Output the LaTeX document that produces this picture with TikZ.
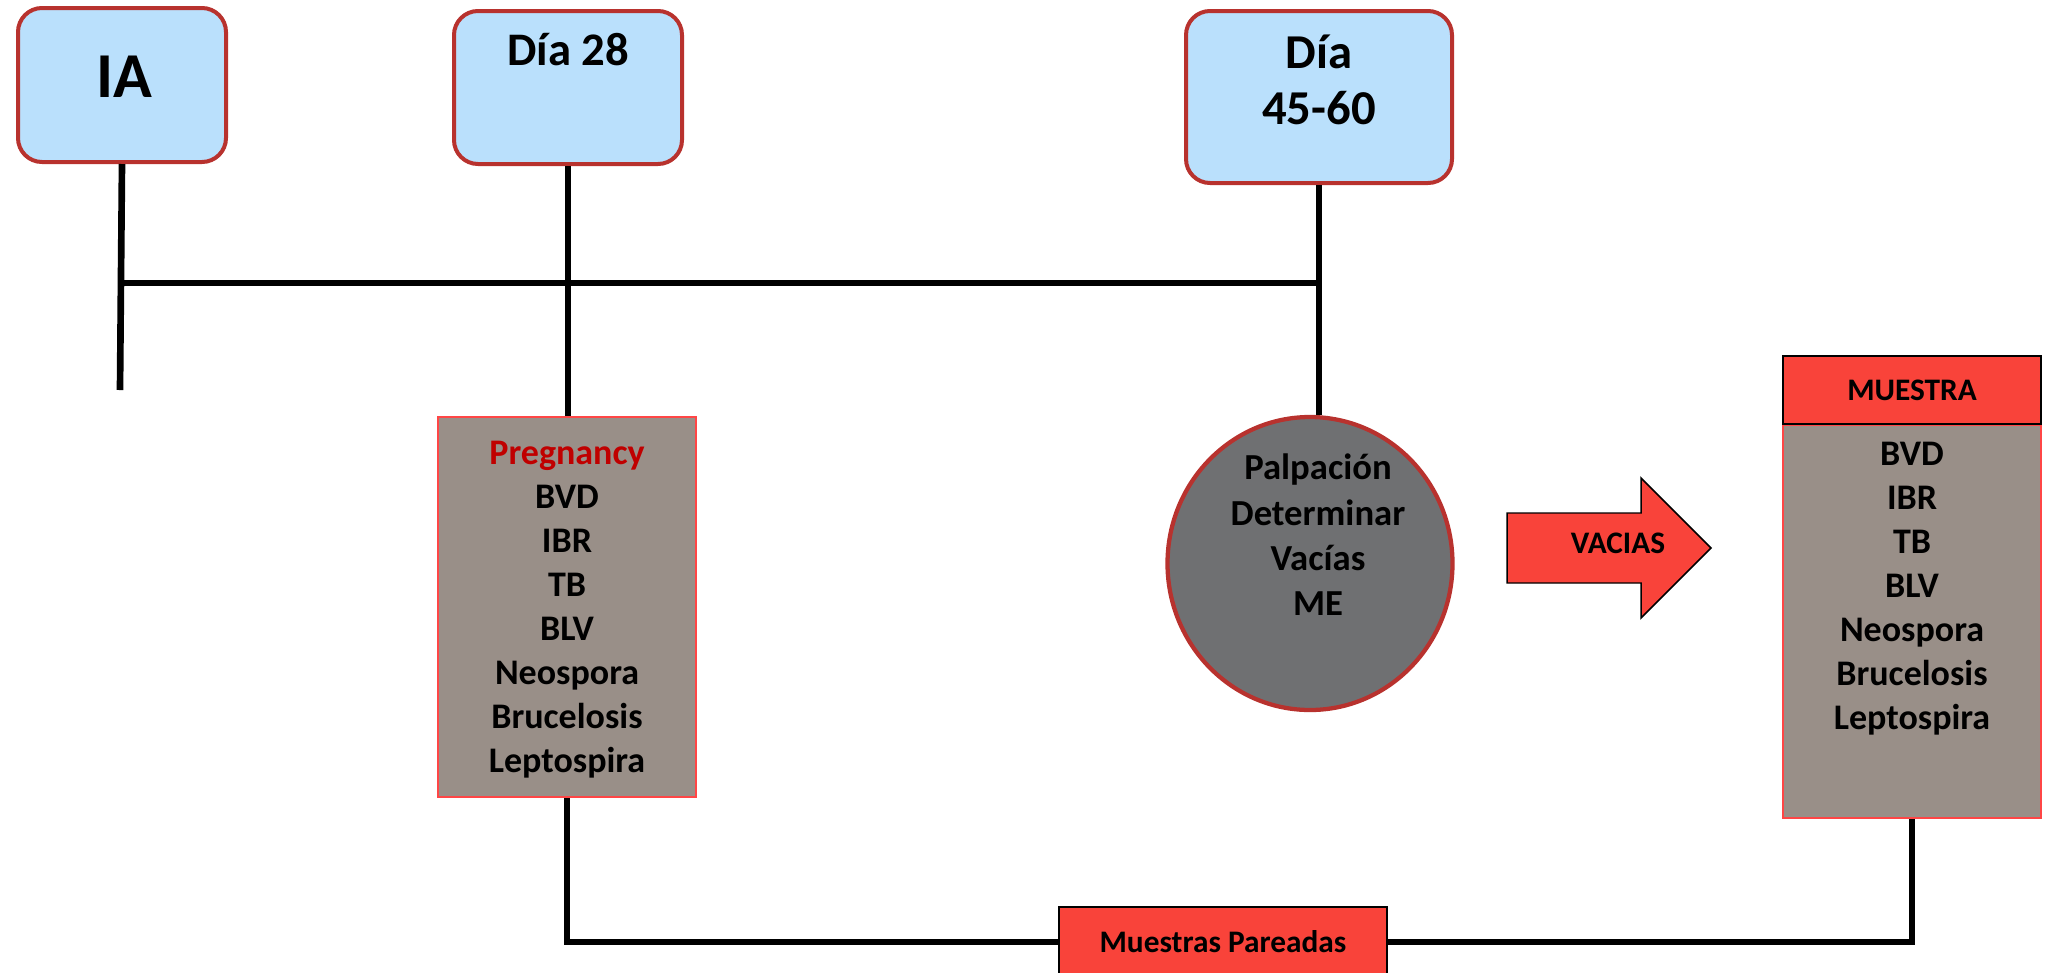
\documentclass[tikz,border=0pt]{standalone}
\usepackage{fontspec}
\setmainfont{Carlito}
\usetikzlibrary{shapes.geometric}
\definecolor{dayblue}{RGB}{186,224,252}
\definecolor{dayred}{RGB}{184,50,46}
\definecolor{boxgrey}{RGB}{153,143,136}
\definecolor{boxred}{RGB}{255,70,70}
\definecolor{palgrey}{RGB}{111,112,114}
\definecolor{redfill}{RGB}{249,67,58}
\definecolor{pregred}{RGB}{192,0,0}
\tikzset{
  conn/.style={line width=5pt, black},
  daybox/.style={draw=dayred, fill=dayblue, line width=3pt, rounded corners=18pt, inner sep=0pt},
  listbox/.style={draw=boxred, fill=boxgrey, line width=1.5pt, inner sep=0pt},
  palshape/.style={ellipse, draw=dayred, fill=palgrey, line width=3.2pt, inner sep=0pt},
  redbox/.style={draw=black, fill=redfill, line width=1.2pt, inner sep=0pt, font=\bfseries\fontsize{23.5}{28}\selectfont},
  arrowsty/.style={draw=black, fill=redfill, line width=1.1pt},
  ttext/.style={inner sep=0pt, font=\bfseries},
  listtext/.style={inner sep=0pt, align=center, font=\bfseries\fontsize{27}{33}\selectfont},
}
\begin{document}
\begin{tikzpicture}[x=0.75pt, y=-0.75pt]
\useasboundingbox (0,0) rectangle (2049,972);

% boxes
\node[daybox, minimum width=156pt, minimum height=115.5pt] (ia) at (122,85) {};
\node[daybox, minimum width=171pt, minimum height=114.75pt] (d28) at (568,87.5) {};
\node[daybox, minimum width=199.5pt, minimum height=129pt] (d45) at (1319,97) {};
\node[listbox, minimum width=193.5pt, minimum height=285pt] (preg) at (567,607) {};
\node[palshape, minimum width=213.75pt, minimum height=219.75pt] (pal) at (1310,563.5) {};
\node[listbox, minimum width=193.5pt, minimum height=294.75pt] (mbody) at (1912,621.5) {};
\node[redbox, minimum width=193.5pt, minimum height=51pt] (mhead) at (1912,390) {MUESTRA};
\node[redbox, minimum width=246pt, minimum height=52.5pt] (par) at (1223,942) {Muestras Pareadas};

% arrow shape
\draw[arrowsty] (1507,513) -- (1641,513) -- (1641,478) -- (1711,548) -- (1641,618) -- (1641,583) -- (1507,583) -- cycle;

% texts
\node[ttext, font=\bfseries\fontsize{48}{56}\selectfont, anchor=base] (iat) at (124,97) {IA};
\node[ttext, font=\bfseries\fontsize{35}{42}\selectfont, anchor=base] (d28t) at (568,65) {Día 28};
\node[ttext, align=center, font=\bfseries\fontsize{36.5}{42}\selectfont] (d45t) at (1319,80) {Día\\45-60};
\node[listtext] (pregt) at (567,610) {\textcolor{pregred}{Pregnancy}\\BVD\\IBR\\TB\\BLV\\Neospora\\Brucelosis\\Leptospira};
\node[listtext, font=\bfseries\fontsize{27.5}{34}\selectfont] (palt) at (1318,535) {Palpación\\Determinar\\Vacías\\ME};
\node[listtext] (mbodyt) at (1912,588.5) {BVD\\IBR\\TB\\BLV\\Neospora\\Brucelosis\\Leptospira};
\node[ttext, font=\bfseries\fontsize{23.5}{28}\selectfont, anchor=base] (vac) at (1618,553) {VACIAS};

% connectors
\coordinate (iaend) at (120,390);
\coordinate (tl) at (121,283);
\draw[conn] (ia.south) -- (iaend);
\draw[conn] (tl) -- (d45.south |- tl);
\draw[conn] (d28.south) -- (d28.south |- preg.north);
\draw[conn] (d45.south) -- (d45.south |- pal.north);
\draw[conn] (preg.south) |- (par.west);
\draw[conn] (par.east) -| (mbody.south);
\end{tikzpicture}
\end{document}
